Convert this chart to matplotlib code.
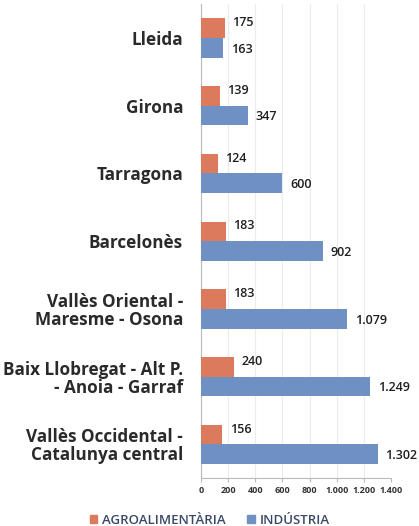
import matplotlib
matplotlib.use("Agg")
import matplotlib.pyplot as plt
import numpy as np

categories = ["Lleida", "Girona", "Tarragona", "Barcelonès",
              "Vallès Oriental -\nMaresme - Osona",
              "Baix Llobregat - Alt P.\n- Anoia - Garraf",
              "Vallès Occidental -\nCatalunya central"]
agro = [175, 139, 124, 183, 183, 240, 156]
industria = [163, 347, 600, 902, 1079, 1249, 1302]
xticks = [0, 200, 400, 600, 800, 1000, 1200, 1400]
series_names = ["AGROALIMENTÀRIA", "INDÚSTRIA"]

def fmt(v):
    return f"{v:,}".replace(",", ".")

plt.rcParams['font.family'] = ['Open Sans', 'DejaVu Sans']
fig = plt.figure(figsize=(4.19, 5.26), dpi=100)
ax = fig.add_axes([0.48, 0.091, 0.453, 0.901])

c_agro = "#DB7A5D"
c_ind = "#6F90C2"
n = len(categories)
y = np.arange(n)
h = 0.29
ax.barh(y - h/2, agro, height=h, color=c_agro, zorder=3)
ax.barh(y + h/2, industria, height=h, color=c_ind, zorder=3)

for yi, v in zip(y, agro):
    ax.text(v + 55, yi - h/2 - 0.08, fmt(v), va="center", ha="left", fontsize=9, fontweight="semibold", color="#1e1e1e", zorder=4)
for yi, v in zip(y, industria):
    ax.text(v + 55, yi + h/2 + 0.02, fmt(v), va="center", ha="left", fontsize=9, fontweight="semibold", color="#1e1e1e", zorder=4)

ax.set_ylim(n - 0.5, -0.5)
ax.set_xlim(0, 1400)
ax.set_yticks(y)
ax.set_yticklabels(categories, fontsize=12.3, fontweight="bold", color="#2a2a2a", ha="right", linespacing=1.0)
ax.tick_params(axis="y", length=0, pad=13)
ax.set_xticks(xticks)
ax.set_xticklabels([fmt(t) for t in xticks], fontsize=6.5, fontweight="bold", color="#333333")
ax.tick_params(axis="x", length=3, color="#bbbbbb", pad=3)
ax.grid(axis="x", color="#ececec", linewidth=0.8, zorder=0)
for s in ["top", "right"]:
    ax.spines[s].set_visible(False)
ax.spines["left"].set_color("#bbbbbb")
ax.spines["bottom"].set_color("#bbbbbb")

from matplotlib.patches import Patch
handles = [Patch(color=c_agro), Patch(color=c_ind)]
fig.legend(handles, series_names, loc="lower center", bbox_to_anchor=(0.5, -0.024), ncol=2,
           frameon=False, fontsize=9.5, handlelength=0.6, handleheight=0.6, columnspacing=1.6,
           handletextpad=0.35, labelcolor="#3a4868", prop={'weight': 'semibold', 'size': 9.5})

fig.savefig("out.png", dpi=100)
